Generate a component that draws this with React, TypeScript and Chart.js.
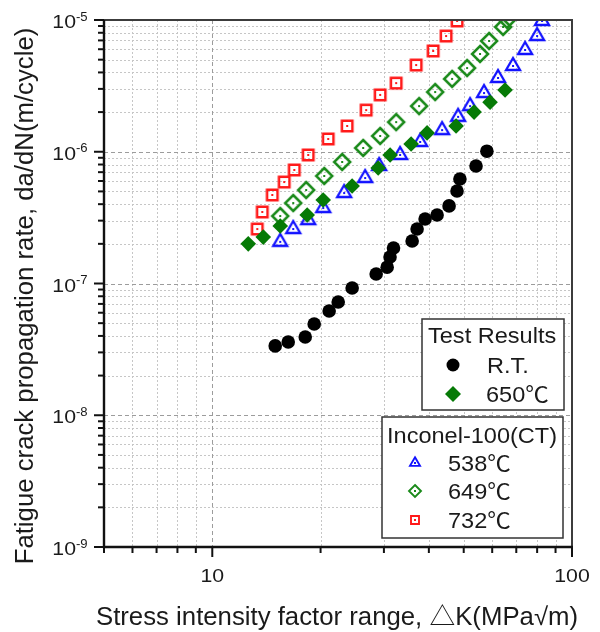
import React, { useEffect, useRef } from 'react';
import { Chart, registerables } from 'chart.js';
Chart.register(...registerables);

// ---- data (ΔK in MPa√m, da/dN in m/cycle) ----
const rtK = [14.96, 16.26, 18.13, 19.2, 21.13, 22.39, 24.48, 28.55, 30.63, 31.2, 31.9, 35.94, 37.1, 39.05, 42.17, 45.53, 47.9, 48.8, 54.1, 58.0];
const rtRate = [3.36e-8, 3.6e-8, 3.93e-8, 4.93e-8, 6.18e-8, 7.24e-8, 9.24e-8, 1.18e-7, 1.33e-7, 1.59e-7, 1.86e-7, 2.1e-7, 2.59e-7, 3.09e-7, 3.31e-7, 3.88e-7, 5.04e-7, 6.21e-7, 7.8e-7, 1.01e-6];

const t650K = [12.59, 13.86, 15.45, 18.36, 20.34, 24.48, 28.92, 31.22, 35.71, 39.55, 47.62, 53.43, 59.18, 65.15];
const t650Rate = [2.0e-7, 2.25e-7, 2.73e-7, 3.31e-7, 4.3e-7, 5.5e-7, 7.53e-7, 9.45e-7, 1.145e-6, 1.39e-6, 1.57e-6, 2.0e-6, 2.38e-6, 2.94e-6];

const in538K = [15.45, 16.79, 18.48, 20.34, 23.26, 26.61, 29.1, 33.28, 37.83, 43.53, 48.24, 52.08, 56.94, 62.29, 68.56, 74.05, 79.97, 82.54];
const in538Rate = [2.07e-7, 2.59e-7, 3.03e-7, 3.74e-7, 4.86e-7, 6.32e-7, 7.8e-7, 9.45e-7, 1.186e-6, 1.46e-6, 1.84e-6, 2.22e-6, 2.79e-6, 3.63e-6, 4.48e-6, 5.92e-6, 7.56e-6, 9.83e-6];

const in649K = [15.45, 16.79, 18.24, 20.47, 22.96, 26.27, 29.29, 32.44, 37.58, 41.64, 46.42, 51.09, 55.51, 58.82, 64.33, 65.99];
const in649Rate = [3.25e-7, 4.08e-7, 5.12e-7, 6.55e-7, 8.36e-7, 1.068e-6, 1.317e-6, 1.68e-6, 2.22e-6, 2.84e-6, 3.57e-6, 4.32e-6, 5.52e-6, 6.93e-6, 8.85e-6, 1.0e-5];

const in732K = [13.34, 13.77, 14.68, 15.85, 16.9, 18.48, 21.0, 23.71, 26.78, 29.29, 32.44, 36.87, 41.11, 44.67, 47.92];
const in732Rate = [2.59e-7, 3.49e-7, 4.7e-7, 5.89e-7, 7.27e-7, 9.45e-7, 1.25e-6, 1.57e-6, 2.07e-6, 2.7e-6, 3.32e-6, 4.55e-6, 5.82e-6, 7.56e-6, 9.83e-6];

// ---- axes ----
const xMin = 5;
const xMax = 100;
const yMin = 1e-9;
const yMax = 1e-5;
const xMajorTicks = [10, 100];
const xMajorLabels = ['10', '100'];
const xMinorTicks = [5, 6, 7, 8, 9, 20, 30, 40, 50, 60, 70, 80, 90];
const yMajorExponents = [-9, -8, -7, -6, -5];
const yMinorMultipliers = [2, 3, 4, 5, 6, 7, 8, 9];

const xTitle = 'Stress intensity factor range, △K(MPa√m)';
const yTitle = 'Fatigue crack propagation rate, da/dN(m/cycle)';
const legend1Title = 'Test Results';
const legend1Items = ['R.T.', '650℃'];
const legend2Title = 'Inconel-100(CT)';
const legend2Items = ['538℃', '649℃', '732℃'];

const FONT = "'Liberation Sans', Arial, 'Noto Sans CJK SC', sans-serif";
const BLUE = '#1212ff';
const GREEN_H = '#1a8a1a';
const GREEN_F = '#067a06';
const RED = '#ff1a1a';

function pts(xs: number[], ys: number[]) {
  return xs.map((x, i) => ({ x, y: ys[i] }));
}

function shapePath(ctx: CanvasRenderingContext2D, shape: string, cx: number, cy: number, size: number) {
  ctx.beginPath();
  if (shape === 'triangle') {
    const w = size;
    const h = size * 0.86;
    ctx.moveTo(cx, cy - (2 * h) / 3);
    ctx.lineTo(cx + w / 2, cy + h / 3);
    ctx.lineTo(cx - w / 2, cy + h / 3);
    ctx.closePath();
  } else if (shape === 'diamond') {
    const r = size / 2;
    ctx.moveTo(cx, cy - r);
    ctx.lineTo(cx + r, cy);
    ctx.lineTo(cx, cy + r);
    ctx.lineTo(cx - r, cy);
    ctx.closePath();
  } else if (shape === 'square') {
    const r = size / 2;
    ctx.rect(cx - r, cy - r, size, size);
  } else if (shape === 'circle') {
    ctx.arc(cx, cy, size / 2, 0, Math.PI * 2);
  }
}

function drawHollowMarker(ctx: CanvasRenderingContext2D, shape: string, cx: number, cy: number, size: number, color: string, lw: number) {
  ctx.save();
  ctx.setLineDash([]);
  ctx.strokeStyle = color;
  ctx.fillStyle = color;
  ctx.lineWidth = lw;
  ctx.lineJoin = 'miter';
  shapePath(ctx, shape, cx, cy, size);
  ctx.stroke();
  ctx.fillRect(cx - 1, cy - 1, 2, 2);
  ctx.restore();
}

function makeMarker(shape: string, size: number, color: string, lw: number) {
  const c = document.createElement('canvas');
  let s = Math.ceil(size + lw * 2 + 4);
  if (s % 2) s += 1;
  c.width = s;
  c.height = s;
  const ctx = c.getContext('2d')!;
  drawHollowMarker(ctx, shape, s / 2, s / 2, size, color, lw);
  return c;
}

function drawText(ctx: CanvasRenderingContext2D, text: string, x: number, y: number, size: number, align: CanvasTextAlign, sx = 1, rot = 0, color = '#1a1a1a') {
  ctx.save();
  ctx.translate(x, y);
  if (rot) ctx.rotate(rot);
  ctx.scale(sx, 1);
  ctx.font = `${size}px ${FONT}`;
  ctx.textAlign = align;
  ctx.textBaseline = 'alphabetic';
  ctx.fillStyle = color;
  ctx.fillText(text, 0, 0);
  ctx.restore();
}

const gridPlugin = {
  id: 'logGrid',
  beforeDatasetsDraw(chart: any) {
    const { ctx, chartArea: a, scales } = chart;
    const xs = scales.x;
    const ys = scales.y;
    ctx.save();
    ctx.lineWidth = 1;
    // minor grid
    ctx.strokeStyle = '#c6c6c6';
    ctx.setLineDash([2, 2]);
    for (const v of xMinorTicks) {
      const px = Math.round(xs.getPixelForValue(v)) + 0.5;
      if (px <= a.left + 1 || px >= a.right - 1) continue;
      ctx.beginPath();
      ctx.moveTo(px, a.top);
      ctx.lineTo(px, a.bottom);
      ctx.stroke();
    }
    for (const e of yMajorExponents.slice(0, -1)) {
      for (const m of yMinorMultipliers) {
        const py = Math.round(ys.getPixelForValue(m * Math.pow(10, e))) + 0.5;
        ctx.beginPath();
        ctx.moveTo(a.left, py);
        ctx.lineTo(a.right, py);
        ctx.stroke();
      }
    }
    // major grid
    ctx.strokeStyle = '#9c9c9c';
    ctx.setLineDash([4, 3]);
    for (const v of xMajorTicks) {
      const px = Math.round(xs.getPixelForValue(v)) + 0.5;
      if (px <= a.left + 1 || px >= a.right - 1) continue;
      ctx.beginPath();
      ctx.moveTo(px, a.top);
      ctx.lineTo(px, a.bottom);
      ctx.stroke();
    }
    for (const e of yMajorExponents) {
      const py = Math.round(ys.getPixelForValue(Math.pow(10, e))) + 0.5;
      if (py <= a.top + 1 || py >= a.bottom - 1) continue;
      ctx.beginPath();
      ctx.moveTo(a.left, py);
      ctx.lineTo(a.right, py);
      ctx.stroke();
    }
    ctx.restore();
  },
};

const axesPlugin = {
  id: 'axesDecor',
  afterDatasetsDraw(chart: any) {
    const { ctx, chartArea: a, scales } = chart;
    const xs = scales.x;
    const ys = scales.y;
    ctx.save();
    ctx.setLineDash([]);
    // frame top/right
    ctx.strokeStyle = '#3c3c3c';
    ctx.lineWidth = 2;
    ctx.beginPath();
    ctx.moveTo(a.left, a.top);
    ctx.lineTo(a.right, a.top);
    ctx.lineTo(a.right, a.bottom);
    ctx.stroke();
    // axis lines
    ctx.strokeStyle = '#111';
    ctx.lineWidth = 2.4;
    ctx.beginPath();
    ctx.moveTo(a.left, a.top);
    ctx.lineTo(a.left, a.bottom);
    ctx.lineTo(a.right + 1, a.bottom);
    ctx.stroke();
    // ticks
    ctx.lineWidth = 2;
    for (const v of xMajorTicks) {
      const px = xs.getPixelForValue(v);
      ctx.beginPath();
      ctx.moveTo(px, a.bottom);
      ctx.lineTo(px, a.bottom + 10);
      ctx.stroke();
    }
    for (const v of xMinorTicks) {
      const px = xs.getPixelForValue(v);
      ctx.beginPath();
      ctx.moveTo(px, a.bottom);
      ctx.lineTo(px, a.bottom + 6);
      ctx.stroke();
    }
    for (const e of yMajorExponents) {
      const py = ys.getPixelForValue(Math.pow(10, e));
      ctx.beginPath();
      ctx.moveTo(a.left, py);
      ctx.lineTo(a.left - 10, py);
      ctx.stroke();
      if (e === yMajorExponents[yMajorExponents.length - 1]) continue;
      for (const m of yMinorMultipliers) {
        const pm = ys.getPixelForValue(m * Math.pow(10, e));
        ctx.beginPath();
        ctx.moveTo(a.left, pm);
        ctx.lineTo(a.left - 6, pm);
        ctx.stroke();
      }
    }
    ctx.restore();

    // tick labels
    xMajorTicks.forEach((v, i) => {
      drawText(ctx, xMajorLabels[i], xs.getPixelForValue(v), 582, 19, 'center', 1.12);
    });
    for (const e of yMajorExponents) {
      const py = ys.getPixelForValue(Math.pow(10, e));
      drawText(ctx, '10', 76, py + 8, 19, 'right', 1.12);
      drawText(ctx, String(e), 76, py + 0.5, 12.5, 'left', 1.05);
    }

    // axis titles
    drawText(ctx, xTitle, 337, 625, 25, 'center', 1.03);
    drawText(ctx, yTitle, 33, 296, 25, 'center', 1.03, -Math.PI / 2);

    // legends
    ctx.save();
    ctx.setLineDash([]);
    ctx.fillStyle = '#fff';
    ctx.strokeStyle = '#333';
    ctx.lineWidth = 1.5;
    ctx.fillRect(422, 319, 142, 91);
    ctx.strokeRect(422, 319, 142, 91);
    ctx.fillRect(382, 417, 181, 121);
    ctx.strokeRect(382, 417, 181, 121);
    ctx.restore();

    drawText(ctx, legend1Title, 428, 343, 22, 'left', 1.07);
    ctx.save();
    ctx.fillStyle = '#000';
    ctx.beginPath();
    ctx.arc(453, 365, 6.5, 0, Math.PI * 2);
    ctx.fill();
    ctx.fillStyle = GREEN_F;
    shapePath(ctx, 'diamond', 453, 394, 16);
    ctx.fill();
    ctx.restore();
    drawText(ctx, legend1Items[0], 487, 373, 22, 'left', 1.07);
    drawText(ctx, legend1Items[1], 486, 402, 22, 'left', 1.07);

    drawText(ctx, legend2Title, 387, 443, 22, 'left', 1.07);
    drawHollowMarker(ctx, 'triangle', 415, 463, 10, BLUE, 1.9);
    drawHollowMarker(ctx, 'diamond', 415, 491, 12, GREEN_H, 1.9);
    drawHollowMarker(ctx, 'square', 415, 520, 8, RED, 1.9);
    drawText(ctx, legend2Items[0], 448, 471, 22, 'left', 1.07);
    drawText(ctx, legend2Items[1], 448, 499, 22, 'left', 1.07);
    drawText(ctx, legend2Items[2], 448, 528, 22, 'left', 1.07);
  },
};

export default function App() {
  const ref = useRef<HTMLCanvasElement | null>(null);
  useEffect(() => {
    document.body.style.margin = '0';
    const canvas = ref.current;
    if (!canvas) return;
    const triImg = makeMarker('triangle', 14, BLUE, 2.3);
    const diaImg = makeMarker('diamond', 16, GREEN_H, 2.5);
    const sqImg = makeMarker('square', 10.5, RED, 2.5);
    const chart = new Chart(canvas, {
      type: 'scatter',
      data: {
        datasets: [
          { label: 'R.T.', data: pts(rtK, rtRate), pointStyle: 'circle', pointRadius: 6.8, backgroundColor: '#000', borderColor: '#000', borderWidth: 0, clip: 0 },
          { label: '650℃', data: pts(t650K, t650Rate), pointStyle: 'rectRot', pointRadius: 7.8, backgroundColor: GREEN_F, borderColor: GREEN_F, borderWidth: 0, clip: 0 },
          { label: '732℃', data: pts(in732K, in732Rate), pointStyle: sqImg as any, pointRadius: 6, clip: 0 },
          { label: '649℃', data: pts(in649K, in649Rate), pointStyle: diaImg as any, pointRadius: 7, clip: 0 },
          { label: '538℃', data: pts(in538K, in538Rate), pointStyle: triImg as any, pointRadius: 7, clip: 0 },
        ] as any,
      },
      options: {
        responsive: false,
        animation: false,
        events: [],
        layout: { padding: { top: 20, right: 28, left: 0, bottom: 0 } },
        plugins: { legend: { display: false }, tooltip: { enabled: false } },
        scales: {
          x: {
            type: 'logarithmic',
            min: xMin,
            max: xMax,
            grid: { display: false },
            border: { display: false },
            ticks: { display: false },
            afterFit: (s: any) => { s.height = 85; },
          },
          y: {
            type: 'logarithmic',
            min: yMin,
            max: yMax,
            grid: { display: false },
            border: { display: false },
            ticks: { display: false },
            afterFit: (s: any) => { s.width = 104; },
          },
        },
      } as any,
      plugins: [gridPlugin, axesPlugin],
    });
    return () => chart.destroy();
  }, []);
  return (
    <div style={{ position: 'absolute', left: 0, top: 0, width: 600, height: 632, background: '#fff' }}>
      <canvas ref={ref} width={600} height={632} style={{ display: 'block' }} />
    </div>
  );
}
